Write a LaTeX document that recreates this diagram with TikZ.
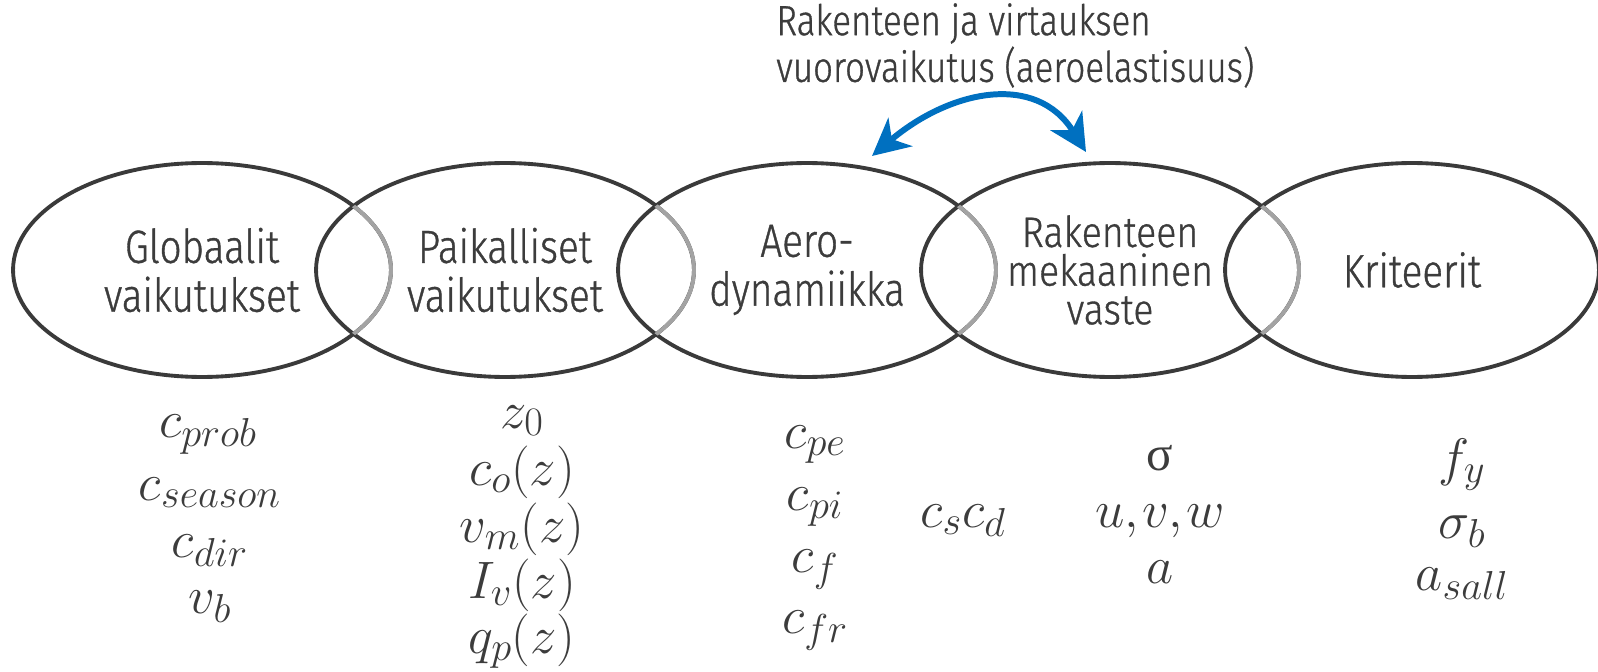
\RequirePackage{fix-cm}
\documentclass[tikz,border=0pt]{standalone}
\usepackage{fontspec}
\newfontfamily\lblfont[FakeStretch=0.83,FakeBold=0.8]{Fira Sans Light}
\newfontfamily\lblfontb[FakeStretch=0.88,FakeBold=0.8]{Fira Sans Light}
\newfontfamily\grkfont{Liberation Serif}
\usetikzlibrary{arrows.meta,shapes.geometric}
\DeclareMathSizes{30}{30}{23}{17}
\definecolor{ringc}{HTML}{3A3A3A}
\definecolor{overc}{HTML}{A3A3A3}
\definecolor{txtc}{HTML}{3C3C3C}
\definecolor{bluec}{HTML}{0070C0}
\tikzset{
  lbl/.style={font=\lblfont\fontsize{26.5}{27.8}\selectfont, text=txtc, align=center},
  lblsmall/.style={font=\lblfontb\fontsize{24.3}{22}\selectfont},
  toplbl/.style={font=\lblfont\fontsize{24}{26.6}\selectfont, text=txtc, align=left, inner sep=0pt},
  ring/.style={ellipse, draw=ringc, line width=2.2pt, minimum width=7.56cm, minimum height=4.28cm, inner sep=0pt, lbl},
  overarc/.style={draw=overc, line width=2.2pt},
  mth/.style={anchor=base, text=txtc, inner sep=0pt, font=\fontsize{30}{34}\selectfont},
  grk/.style={anchor=base, text=txtc, inner sep=0pt, font=\grkfont\fontsize{28}{32}\selectfont},
  twoway/.style={draw=bluec, line width=3.4pt,
    arrows={Stealth[length=0.74cm,width=0.74cm,inset=0.22cm]-Stealth[length=0.74cm,width=0.74cm,inset=0.22cm]}}
}
\begin{document}
\begin{tikzpicture}[x=0.02cm, y=-0.02cm]
\useasboundingbox (0,0) rectangle (1598,672);
% ellipses
\node[ring] (e1) at (202,270) {Globaalit\\vaikutukset};
\node[ring] (e2) at (505,270) {Paikalliset\\vaikutukset};
\node[ring] (e3) at (807,270) {Aero-\\dynamiikka};
\node[ring, lblsmall] (e4) at (1110,270) {Rakenteen\\mekaaninen\\vaste};
\node[ring, minimum width=7.48cm] (e5) at (1412,270) {Kriteerit};
% lighter arcs inside the next ellipse
\begin{scope}
  \clip (e2.center) ellipse [x radius=189, y radius=107];
  \draw[overarc] (e1.center) ellipse [x radius=189, y radius=107];
\end{scope}
\begin{scope}
  \clip (e3.center) ellipse [x radius=189, y radius=107];
  \draw[overarc] (e2.center) ellipse [x radius=189, y radius=107];
\end{scope}
\begin{scope}
  \clip (e4.center) ellipse [x radius=189, y radius=107];
  \draw[overarc] (e3.center) ellipse [x radius=189, y radius=107];
\end{scope}
\begin{scope}
  \clip (e5.center) ellipse [x radius=187, y radius=107];
  \draw[overarc] (e4.center) ellipse [x radius=189, y radius=107];
\end{scope}
% top label and arrow
\node[toplbl, anchor=north west] (note) at (776,3) {Rakenteen ja virtauksen\\vuorovaikutus (aeroelastisuus)};
\coordinate (aL) at (872,156);
\coordinate (aR) at (1086,152);
\draw[twoway] (aL) .. controls (950,90) and (1036,72) .. (aR);
% column 1
\node[mth] (g1) at (208,437) {$c_{prob}$};
\node[mth] (g2) at (210,500) {$c_{season}$};
\node[mth] (g3) at (210,557) {$c_{dir}$};
\node[mth] (g4) at (210,613) {$v_b$};
% column 2
\node[mth] (p1) at (522,428) {$z_0$};
\node[mth] (p2) at (522,485) {$c_o(z)$};
\node[mth] (p3) at (522,542) {$v_m(z)$};
\node[mth] (p4) at (522,598) {$I_v(z)$};
\node[mth] (p5) at (522,653) {$q_p(z)$};
% column 3
\node[mth] (a1) at (815,448) {$c_{pe}$};
\node[mth] (a2) at (815,510) {$c_{pi}$};
\node[mth] (a3) at (815,572) {$c_f$};
\node[mth] (a4) at (815,633) {$c_{fr}$};
\node[mth] (cscd) at (963,527) {$c_s c_d$};
% column 4
\node[grk] (r1) at (1160,470) {σ};
\node[mth] (r2) at (1160,527) {$u{,}\mkern1mu v{,}\mkern1mu w$};
\node[mth] (r3) at (1160,583) {$a$};
% column 5
\node[mth] (k1) at (1462,475) {$f_y$};
\node[mth] (k2) at (1462,538) {$\sigma_b$};
\node[mth] (k3) at (1462,590) {$a_{sall}$};
\end{tikzpicture}
\end{document}
